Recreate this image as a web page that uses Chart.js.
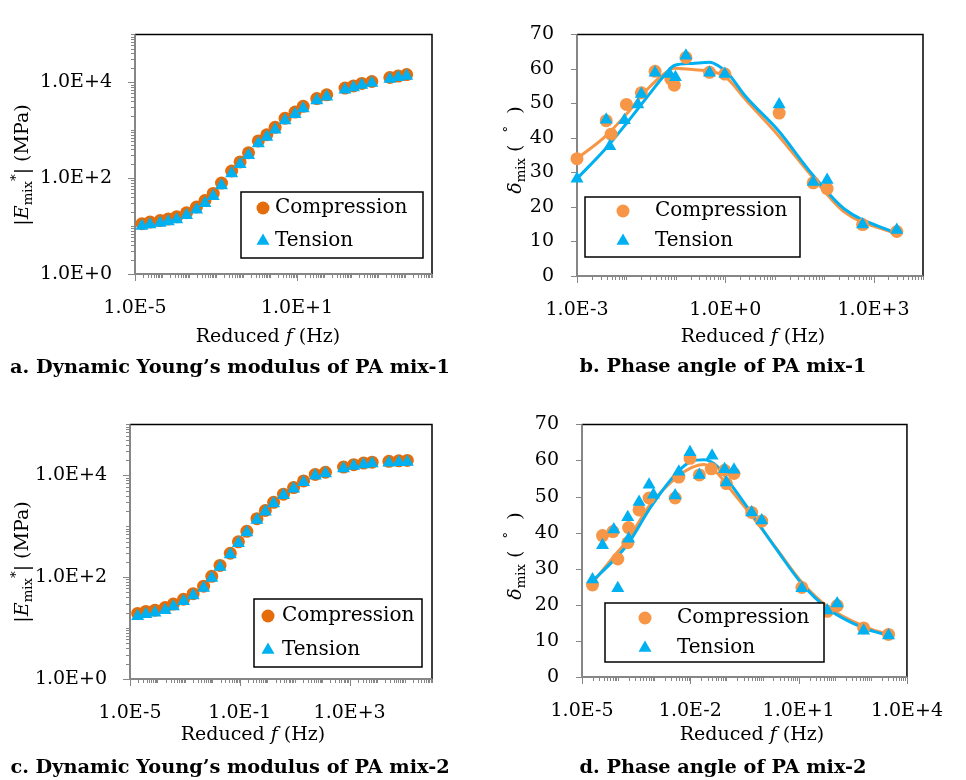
<!DOCTYPE html>
<html>
<head>
<meta charset="utf-8">
<script src="https://cdn.jsdelivr.net/npm/chart.js@4.4.1/dist/chart.umd.min.js"></script>
<style>
  body { margin: 0; background: #fff; width: 966px; height: 780px; position: relative; overflow: hidden; font-family: 'DejaVu Serif', serif; }
  canvas { position: absolute; }
  .lbl { position: absolute; white-space: nowrap; color: #000; line-height: 1; }
  .xt { font-size: 19px; transform: translate(-50%, -50%); }
  .cap { font-size: 19.3px; font-weight: bold; transform: translate(-50%, -50%); }
  .yt { font-size: 19px; transform: translate(-50%, -50%) rotate(-90deg); }
  sub, sup { font-size: 0.7em; line-height: 0; }
</style>
</head>
<body>
<canvas id="chartA" width="483" height="390" style="left:0;top:0"></canvas>
<canvas id="chartB" width="483" height="390" style="left:483px;top:0"></canvas>
<canvas id="chartC" width="483" height="390" style="left:0;top:390px"></canvas>
<canvas id="chartD" width="483" height="390" style="left:483px;top:390px"></canvas>

<div class="lbl yt" style="left:21px;top:165px">|<i>E</i><sub>mix</sub><sup>*</sup>| (MPa)</div>
<div class="lbl yt" style="left:514px;top:150px"><i>δ</i><sub>mix</sub> (&nbsp;&nbsp;<sup>°</sup>&nbsp;&nbsp;)</div>
<div class="lbl yt" style="left:21px;top:562px">|<i>E</i><sub>mix</sub><sup>*</sup>| (MPa)</div>
<div class="lbl yt" style="left:514px;top:556px"><i>δ</i><sub>mix</sub> (&nbsp;&nbsp;<sup>°</sup>&nbsp;&nbsp;)</div>

<div class="lbl xt" style="left:268px;top:335px">Reduced <i>f</i> (Hz)</div>
<div class="lbl xt" style="left:753px;top:335px">Reduced <i>f</i> (Hz)</div>
<div class="lbl xt" style="left:253px;top:733px">Reduced <i>f</i> (Hz)</div>
<div class="lbl xt" style="left:752px;top:733px">Reduced <i>f</i> (Hz)</div>

<div class="lbl cap" style="left:230px;top:367px">a. Dynamic Young’s modulus of PA mix-1</div>
<div class="lbl cap" style="left:723px;top:366px">b. Phase angle of PA mix-1</div>
<div class="lbl cap" style="left:230px;top:767px">c. Dynamic Young’s modulus of PA mix-2</div>
<div class="lbl cap" style="left:723px;top:767px">d. Phase angle of PA mix-2</div>

<script>
// series names
const seriesNames = ['Compression', 'Tension'];

// a. dynamic modulus, PA mix-1 (Hz, MPa)
const aFreq = [1.8e-5, 3.6e-5, 8.5e-5, 1.7e-4, 3.5e-4, 8.1e-4, 1.9e-3, 3.9e-3, 7.9e-3, 0.016, 0.038, 0.078, 0.16, 0.37,
  0.76, 1.55, 3.6, 8.5, 17, 54, 126, 600, 1230, 2510, 5900, 27500, 56000, 115000];
const aCompMod = [11.2, 12.1, 13.0, 14.0, 15.6, 19, 25, 34, 48, 79, 141, 218, 338, 598,
  806, 1150, 1780, 2390, 3160, 4570, 5480, 7590, 8370, 9500, 10400, 12600, 13500, 14500];
const aTensMod = [10.0, 10.8, 11.6, 12.5, 13.8, 16.8, 22, 30, 42, 70, 125, 195, 300, 530,
  720, 1020, 1600, 2150, 2850, 4150, 5000, 7000, 7800, 8800, 9700, 11800, 12700, 13600];

// b. phase angle, PA mix-1 (Hz, degrees)
const bCompFreq = [0.001, 0.0039, 0.0049, 0.010, 0.020, 0.038, 0.079, 0.093, 0.16, 0.48, 0.98, 12.3, 60, 115, 600, 2950];
const bCompDeg = [34.0, 45.0, 41.1, 49.7, 53.1, 59.3, 57.1, 55.3, 63.3, 59.0, 58.5, 47.2, 27.0, 25.3, 14.9, 12.9];
const bTensFreq = [0.001, 0.0039, 0.0046, 0.0091, 0.017, 0.020, 0.038, 0.074, 0.098, 0.16, 0.48, 0.98, 12.3, 60, 115, 600, 2950];
const bTensDeg = [28.2, 45.3, 37.6, 45.1, 49.7, 52.7, 58.9, 58.5, 57.6, 63.8, 58.9, 58.5, 49.7, 27.2, 27.8, 14.9, 13.3];
const bFitFreq = [0.001, 0.0039, 0.01, 0.0245, 0.062, 0.093, 0.214, 0.48, 0.76, 1.12, 2.51, 11.7, 55, 257, 2820];
const bFitComp = [34.0, 40.7, 46.9, 53.6, 58.9, 60.2, 59.8, 59.4, 58.6, 57.1, 51.3, 40.8, 29.1, 18.5, 12.3];
const bFitTens = [28.2, 37.1, 44.2, 51.3, 58.5, 61.0, 61.6, 61.9, 60.7, 58.8, 52.2, 42.2, 29.8, 19.4, 12.4];

// c. dynamic modulus, PA mix-2 (Hz, MPa)
const cFreq = [1.9e-5, 3.8e-5, 8.1e-5, 1.9e-4, 3.8e-4, 8.9e-4, 2.0e-3, 4.8e-3, 9.5e-3, 0.019, 0.045, 0.089, 0.18, 0.42,
  0.85, 1.7, 3.9, 9.1, 21, 56, 132, 600, 1410, 3240, 6600, 26900, 61700, 126000];
const cCompMod = [19.4, 21.2, 22.5, 25.3, 29.6, 36.8, 47.4, 66.5, 104, 170, 295, 494, 794, 1410,
  2040, 2950, 4270, 5750, 7760, 10400, 11500, 14500, 16200, 17400, 18100, 18800, 19300, 19600];
const cTensMod = [17.0, 18.6, 19.9, 22.5, 26.5, 33.5, 43.5, 61, 96, 158, 278, 465, 750, 1330,
  1930, 2800, 4050, 5450, 7350, 9800, 10900, 13600, 15200, 16300, 17000, 17600, 18000, 18300];

// d. phase angle, PA mix-2 (Hz, degrees)
const dCompFreq = [1.95e-5, 3.7e-5, 7.2e-5, 9.8e-5, 1.85e-4, 1.95e-4, 3.8e-4, 7.2e-4, 3.8e-3, 4.8e-3, 9.8e-3, 0.0178,
  0.038, 0.089, 0.10, 0.162, 0.50, 0.95, 12.3, 62, 117, 630, 3090];
const dCompDeg = [25.5, 39.2, 40.3, 32.7, 37.2, 41.4, 46.3, 49.6, 49.6, 55.4, 60.6, 56.0,
  57.7, 57.3, 53.6, 56.4, 45.6, 43.2, 24.8, 18.2, 19.8, 13.6, 11.8];
const dTensFreq = [1.95e-5, 3.7e-5, 7.6e-5, 9.8e-5, 1.85e-4, 1.95e-4, 3.8e-4, 7.2e-4, 9.5e-4, 3.8e-3, 4.8e-3, 9.8e-3,
  0.0178, 0.040, 0.089, 0.10, 0.162, 0.50, 0.95, 12.3, 62, 117, 630, 3090];
const dTensDeg = [27.0, 36.5, 40.9, 24.6, 44.3, 38.3, 48.5, 53.3, 50.5, 50.3, 56.9, 62.3,
  56.0, 61.3, 57.6, 53.9, 57.4, 45.6, 43.4, 24.6, 18.4, 20.4, 12.8, 11.5];
const dFitFreq = [1.95e-5, 6.8e-5, 1.86e-4, 7.8e-4, 3.9e-3, 0.0107, 0.024, 0.054, 0.12, 0.50, 2.5, 12.6, 63, 589, 3090];
const dFitComp = [26.1, 32.8, 38.1, 47.8, 55.1, 58.0, 58.9, 56.6, 52.4, 44.7, 35.4, 26.1, 19.5, 14.2, 11.7];
const dFitTens = [26.6, 31.9, 36.8, 46.9, 56.2, 59.8, 60.2, 58.5, 54.0, 45.3, 35.2, 25.7, 19.0, 13.7, 11.5];

// axis ticks
const modYTicks = [1, 100, 10000];
const modYLabels = ['1.0E+0', '1.0E+2', '1.0E+4'];
const degYTicks = [0, 10, 20, 30, 40, 50, 60, 70];
const degYLabels = ['0', '10', '20', '30', '40', '50', '60', '70'];
const aXTicks = [1e-5, 1e1];
const aXLabels = ['1.0E-5', '1.0E+1'];
const bXTicks = [1e-3, 1, 1e3];
const bXLabels = ['1.0E-3', '1.0E+0', '1.0E+3'];
const cXTicks = [1e-5, 1e-1, 1e3];
const cXLabels = ['1.0E-5', '1.0E-1', '1.0E+3'];
const dXTicks = [1e-5, 1e-2, 1e1, 1e4];
const dXLabels = ['1.0E-5', '1.0E-2', '1.0E+1', '1.0E+4'];

const darkOrange = '#E46C0A';
const lightOrange = '#F79646';
const blue = '#00B0F0';
const axisGray = '#868686';
const FONT = 'DejaVu Serif';

const pts = (xs, ys) => xs.map((x, i) => ({ x: x, y: ys[i] }));

function drawMarker(ctx, style, x, y, r, color) {
  ctx.fillStyle = color;
  ctx.beginPath();
  if (style === 'triangle') {
    let rad = 0;
    ctx.moveTo(x + Math.sin(rad) * r, y - Math.cos(rad) * r);
    rad += 2 * Math.PI / 3;
    ctx.lineTo(x + Math.sin(rad) * r, y - Math.cos(rad) * r);
    rad += 2 * Math.PI / 3;
    ctx.lineTo(x + Math.sin(rad) * r, y - Math.cos(rad) * r);
    ctx.closePath();
  } else {
    ctx.arc(x, y, r, 0, Math.PI * 2);
  }
  ctx.fill();
}

function tickMarks(scale) {
  const majors = scale.ticks.map(t => t.value);
  const out = [];
  if (scale.type === 'logarithmic') {
    const e0 = Math.round(Math.log10(scale.min)), e1 = Math.round(Math.log10(scale.max));
    for (let e = e0; e <= e1; e++) {
      for (let m = 1; m <= 9; m++) {
        const v = m * Math.pow(10, e);
        if (v > scale.max * 1.0001) break;
        const major = majors.some(t => Math.abs(Math.log10(t) - Math.log10(v)) < 1e-6);
        out.push({ v: v, len: major ? 7 : 4 });
      }
    }
  } else {
    majors.forEach(v => out.push({ v: v, len: 6 }));
  }
  return out;
}

// Excel-like plot frame, outside tick marks and boxed legend
const excelLook = {
  id: 'excelLook',
  beforeDatasetsDraw(chart) {
    const { ctx, chartArea: a } = chart;
    const xs = chart.scales.x, ys = chart.scales.y;
    ctx.save();
    ctx.strokeStyle = axisGray;
    ctx.lineWidth = 1;
    ctx.beginPath();
    tickMarks(xs).forEach(t => {
      const p = Math.round(xs.getPixelForValue(t.v)) + 0.5;
      ctx.moveTo(p, a.bottom); ctx.lineTo(p, a.bottom + t.len);
    });
    tickMarks(ys).forEach(t => {
      const p = Math.round(ys.getPixelForValue(t.v)) + 0.5;
      ctx.moveTo(a.left, p); ctx.lineTo(a.left - t.len, p);
    });
    ctx.stroke();
    ctx.strokeStyle = '#000';
    ctx.lineWidth = 1.5;
    ctx.beginPath();
    ctx.moveTo(a.left, a.top); ctx.lineTo(a.right, a.top); ctx.lineTo(a.right, a.bottom);
    ctx.stroke();
    ctx.strokeStyle = axisGray;
    ctx.lineWidth = 2;
    ctx.beginPath();
    ctx.moveTo(a.left, a.top); ctx.lineTo(a.left, a.bottom); ctx.lineTo(a.right, a.bottom);
    ctx.stroke();
    ctx.restore();
  },
  afterDatasetsDraw(chart, args, opts) {
    const lg = opts.box;
    if (!lg) return;
    const ctx = chart.ctx;
    ctx.save();
    ctx.fillStyle = '#fff';
    ctx.fillRect(lg.x, lg.y, lg.w, lg.h);
    ctx.strokeStyle = '#000';
    ctx.lineWidth = 1.5;
    ctx.strokeRect(lg.x, lg.y, lg.w, lg.h);
    const markers = chart.data.datasets.filter(d => !d.showLine);
    markers.forEach((d, i) => {
      const y = lg.rows[i];
      drawMarker(ctx, d.pointStyle, lg.mx, y, d.pointRadius, d.backgroundColor);
      ctx.fillStyle = '#000';
      ctx.font = '20px "' + FONT + '"';
      ctx.textBaseline = 'middle';
      ctx.textAlign = 'left';
      ctx.fillText(d.label, lg.tx, y);
    });
    ctx.restore();
  }
};

function markerSet(label, data, color, style, r, order) {
  return { label: label, data: data, pointStyle: style, pointRadius: r, pointHoverRadius: r,
    backgroundColor: color, borderColor: color, borderWidth: 0, showLine: false, clip: false, order: order };
}
function fitLine(label, data, color, order) {
  return { label: label, data: data, showLine: true, pointRadius: 0, borderColor: color, backgroundColor: color,
    borderWidth: 3, cubicInterpolationMode: 'monotone', fill: false, clip: false, order: order };
}

function makeChart(id, cfg) {
  const W = 483, H = 390, XH = 40;
  return new Chart(document.getElementById(id), {
    type: 'scatter',
    data: { datasets: cfg.datasets },
    options: {
      responsive: false,
      animation: false,
      events: [],
      layout: { padding: { left: 0, right: W - cfg.area.r, top: cfg.area.t, bottom: H - cfg.area.b - XH } },
      plugins: {
        legend: { display: false },
        tooltip: { enabled: false },
        excelLook: { box: cfg.legend }
      },
      scales: {
        x: {
          type: 'logarithmic', min: cfg.xMin, max: cfg.xMax,
          afterFit: s => { s.height = XH; },
          afterBuildTicks: s => { s.ticks = cfg.xTicks.map(v => ({ value: v })); },
          ticks: { autoSkip: false, maxRotation: 0, padding: 23, color: '#000',
            font: { family: FONT, size: 19 }, callback: (v, i) => cfg.xLabels[i] },
          grid: { display: false, drawTicks: false },
          border: { display: false }
        },
        y: {
          type: cfg.yLog ? 'logarithmic' : 'linear', min: cfg.yMin, max: cfg.yMax,
          afterFit: s => { s.width = cfg.area.l; },
          afterBuildTicks: s => { s.ticks = cfg.yTicks.map(v => ({ value: v })); },
          ticks: { autoSkip: false, padding: 23, color: '#000',
            font: { family: FONT, size: 19 }, callback: (v, i) => cfg.yLabels[i] },
          grid: { display: false, drawTicks: false },
          border: { display: false }
        }
      }
    },
    plugins: [excelLook]
  });
}

makeChart('chartA', {
  area: { l: 135, r: 432, t: 9, b: 274 },
  xMin: 1e-5, xMax: 1e6, xTicks: aXTicks, xLabels: aXLabels,
  yLog: true, yMin: 1, yMax: 1e5, yTicks: modYTicks, yLabels: modYLabels,
  legend: { x: 241, y: 192, w: 182, h: 66, mx: 263, tx: 275, rows: [208, 241] },
  datasets: [
    markerSet(seriesNames[0], pts(aFreq, aCompMod), darkOrange, 'circle', 6.5, 2),
    markerSet(seriesNames[1], pts(aFreq, aTensMod), blue, 'triangle', 7.5, 1)
  ]
});

makeChart('chartB', {
  area: { l: 94, r: 440, t: 13, b: 276 },
  xMin: 1e-3, xMax: 1e4, xTicks: bXTicks, xLabels: bXLabels,
  yLog: false, yMin: 0, yMax: 70, yTicks: degYTicks, yLabels: degYLabels,
  legend: { x: 102, y: 197, w: 215, h: 60, mx: 140, tx: 172, rows: [211, 241] },
  datasets: [
    markerSet(seriesNames[0], pts(bCompFreq, bCompDeg), lightOrange, 'circle', 6.5, 2),
    markerSet(seriesNames[1], pts(bTensFreq, bTensDeg), blue, 'triangle', 7.5, 1),
    fitLine(seriesNames[0] + ' fit', pts(bFitFreq, bFitComp), lightOrange, 4),
    fitLine(seriesNames[1] + ' fit', pts(bFitFreq, bFitTens), blue, 3)
  ]
});

makeChart('chartC', {
  area: { l: 130, r: 432, t: 30, b: 289 },
  xMin: 1e-5, xMax: 1e6, xTicks: cXTicks, xLabels: cXLabels,
  yLog: true, yMin: 1, yMax: 1e5, yTicks: modYTicks, yLabels: modYLabels,
  legend: { x: 254, y: 209, w: 168, h: 68, mx: 268, tx: 282, rows: [226, 260] },
  datasets: [
    markerSet(seriesNames[0], pts(cFreq, cCompMod), darkOrange, 'circle', 6.5, 2),
    markerSet(seriesNames[1], pts(cFreq, cTensMod), blue, 'triangle', 7.5, 1)
  ]
});

makeChart('chartD', {
  area: { l: 99, r: 440, t: 23, b: 287 },
  xMin: 1e-5, xMax: 1e4, xTicks: dXTicks, xLabels: dXLabels,
  yLog: false, yMin: 0, yMax: 70, yTicks: degYTicks, yLabels: degYLabels,
  legend: { x: 122, y: 213, w: 219, h: 59, mx: 162, tx: 194, rows: [228, 258] },
  datasets: [
    markerSet(seriesNames[0], pts(dCompFreq, dCompDeg), lightOrange, 'circle', 6.5, 2),
    markerSet(seriesNames[1], pts(dTensFreq, dTensDeg), blue, 'triangle', 7.5, 1),
    fitLine(seriesNames[0] + ' fit', pts(dFitFreq, dFitComp), lightOrange, 4),
    fitLine(seriesNames[1] + ' fit', pts(dFitFreq, dFitTens), blue, 3)
  ]
});
</script>
</body>
</html>
